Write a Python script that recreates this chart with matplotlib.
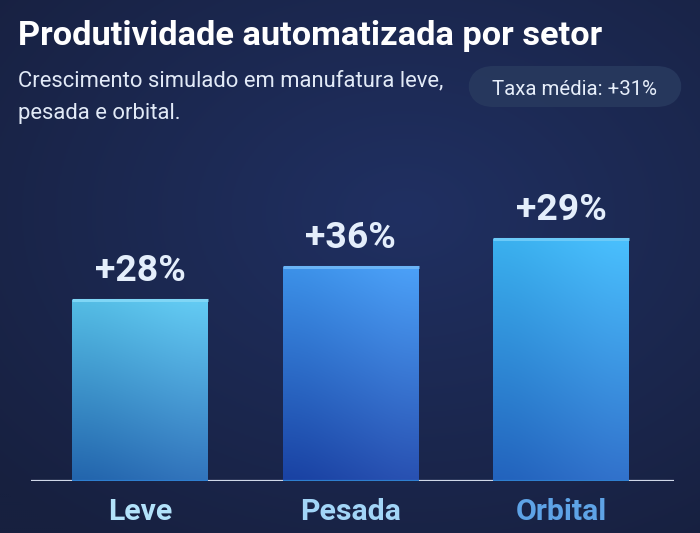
import matplotlib
matplotlib.use("Agg")
import matplotlib.pyplot as plt
import numpy as np
from matplotlib import font_manager as fm
from matplotlib.patches import FancyBboxPatch
from matplotlib.colors import to_rgb

# ---------------- data ----------------
categories = ["Leve", "Pesada", "Orbital"]
bar_values = [74.7, 88.4, 100.0]          # relative bar heights
growth_labels = ["+28%", "+36%", "+29%"]
avg_badge = "Taxa média: +31%"
title_text = "Produtividade automatizada por setor"
subtitle_lines = ["Crescimento simulado em manufatura leve,", "pesada e orbital."]

bar_top_colors = ["#5cc4ec", "#4499f0", "#42b8f6"]
bar_bottom_colors = ["#2a6cb4", "#2149aa", "#2a6ac4"]
bar_edge_colors = ["#7fd6f6", "#6ab4f6", "#6ccaf8"]
tick_colors = ["#b2e2fa", "#a2d5f7", "#5ea3e6"]

# ---------------- fonts ----------------
names = {f.name for f in fm.fontManager.ttflist}
FAMILY = None
for cand in ["Liberation Sans Narrow", "DejaVu Sans Condensed", "Roboto", "Noto Sans"]:
    if cand in names:
        FAMILY = cand
        break
if FAMILY is None:
    FAMILY = "DejaVu Sans"
plt.rcParams["font.family"] = [FAMILY, "DejaVu Sans"]

W, H, DPI = 7.0, 5.33, 100
fig = plt.figure(figsize=(W, H), dpi=DPI)
renderer = fig.canvas.get_renderer()


def fit_size(s, target_px, weight="normal"):
    t = fig.text(0, 0, s, fontsize=10, fontweight=weight)
    w = t.get_window_extent(renderer).width
    t.remove()
    return 10 * target_px / w


def px(x, y):
    """pixel (from top-left) -> figure fraction"""
    return x / (W * DPI), 1 - y / (H * DPI)


# ---------------- background ----------------
bg = fig.add_axes([0, 0, 1, 1])
bg.set_axis_off()
ny, nx = 267, 350
yy, xx = np.mgrid[0:1:ny * 1j, 0:1:nx * 1j]
d = np.sqrt(((xx - 0.58) / 0.8) ** 2 + ((yy - 0.4) / 0.75) ** 2)
d = np.clip(d, 0, 1)
inner = np.array(to_rgb("#203062"))
outer = np.array(to_rgb("#17203f"))
img = inner[None, None, :] * (1 - d[..., None]) + outer[None, None, :] * d[..., None]
bg.imshow(img, extent=[0, 1, 0, 1], aspect="auto", origin="upper", zorder=0)
bg.set_xlim(0, 1)
bg.set_ylim(0, 1)

# ---------------- chart axes ----------------
left, right = 31, 674
base_y, top_y = 481, 140
x0, y0 = px(left, base_y)
x1, y1 = px(right, top_y)
ax = fig.add_axes([x0, y0, x1 - x0, y1 - y0])
ax.patch.set_alpha(0)
for s in ax.spines.values():
    s.set_visible(False)

xpos = np.arange(len(categories))
bar_w = 0.645
ax.set_xlim(-0.519, 2.535)
ax.set_ylim(0, 100 * (base_y - top_y) / 242.0)
ax.axhline(0, color="#d0d8e8", lw=1.6, zorder=1)

bars = ax.bar(xpos, bar_values, width=bar_w, color="none", zorder=2)
for b, ct, cb, ce in zip(bars, bar_top_colors, bar_bottom_colors, bar_edge_colors):
    bx, bw, bh = b.get_x(), b.get_width(), b.get_height()
    grad = np.linspace(0, 1, 128)[:, None]
    top = np.array(to_rgb(ct))
    bot = np.array(to_rgb(cb))
    g = top[None, None, :] * (1 - grad[..., None]) + bot[None, None, :] * grad[..., None]
    g = np.repeat(g, 4, axis=1)
    # slight horizontal sheen
    sheen = np.linspace(-0.03, 0.03, 4)[None, :, None]
    g = np.clip(g + sheen, 0, 1)
    im = ax.imshow(g, extent=[bx, bx + bw, 0, bh], aspect="auto", origin="upper",
                   zorder=2, interpolation="bicubic")
    im.set_clip_path(b)
    ax.plot([bx, bx + bw], [bh, bh], color=ce, lw=2.2, zorder=3, solid_capstyle="butt")
    ax.plot([bx, bx + bw], [0, 0], color="#2e7fd0", lw=1.6, zorder=3, solid_capstyle="butt")

lab_size = fit_size("+28%", 91, "bold")
for xp, v, lab in zip(xpos, bar_values, growth_labels):
    ax.annotate(lab, (xp, v), xytext=(0, 19 * 72 / DPI), textcoords="offset points",
                ha="center", va="baseline", fontsize=lab_size, fontweight="bold",
                color="#e4eefb", zorder=4)

tick_size = fit_size("Pesada", 101, "bold")
ax.set_xticks(xpos, categories)
ax.set_yticks([])
ax.tick_params(axis="x", length=0, pad=12.5, labelsize=tick_size)
for tl, c in zip(ax.get_xticklabels(), tick_colors):
    tl.set_color(c)
    tl.set_fontweight("bold")

# ---------------- header ----------------
tx, ty = px(18, 45)
fig.text(tx, ty, title_text, fontsize=fit_size(title_text, 587, "bold"),
         fontweight="bold", color="#ffffff", ha="left", va="baseline")

sub_size = fit_size(subtitle_lines[0], 426)
for i, line in enumerate(subtitle_lines):
    sx, sy = px(18, 86 + i * 33)
    fig.text(sx, sy, line, fontsize=sub_size, color="#e2eaf7", ha="left", va="baseline")

# badge
bx0, by0 = px(468, 107)
bx1, by1 = px(682, 66)
badge = FancyBboxPatch((bx0, by0), bx1 - bx0, by1 - by0,
                       boxstyle="round,pad=0,rounding_size=0.037",
                       transform=fig.transFigure, facecolor="#28395e", edgecolor="none",
                       alpha=0.9, mutation_aspect=(W / H))
fig.patches.append(badge)
cx, cy = px(574, 95)
fig.text(cx, cy, avg_badge, fontsize=fit_size(avg_badge, 165), color="#e6eefa",
         ha="center", va="baseline")

fig.savefig("out.png", dpi=DPI)
